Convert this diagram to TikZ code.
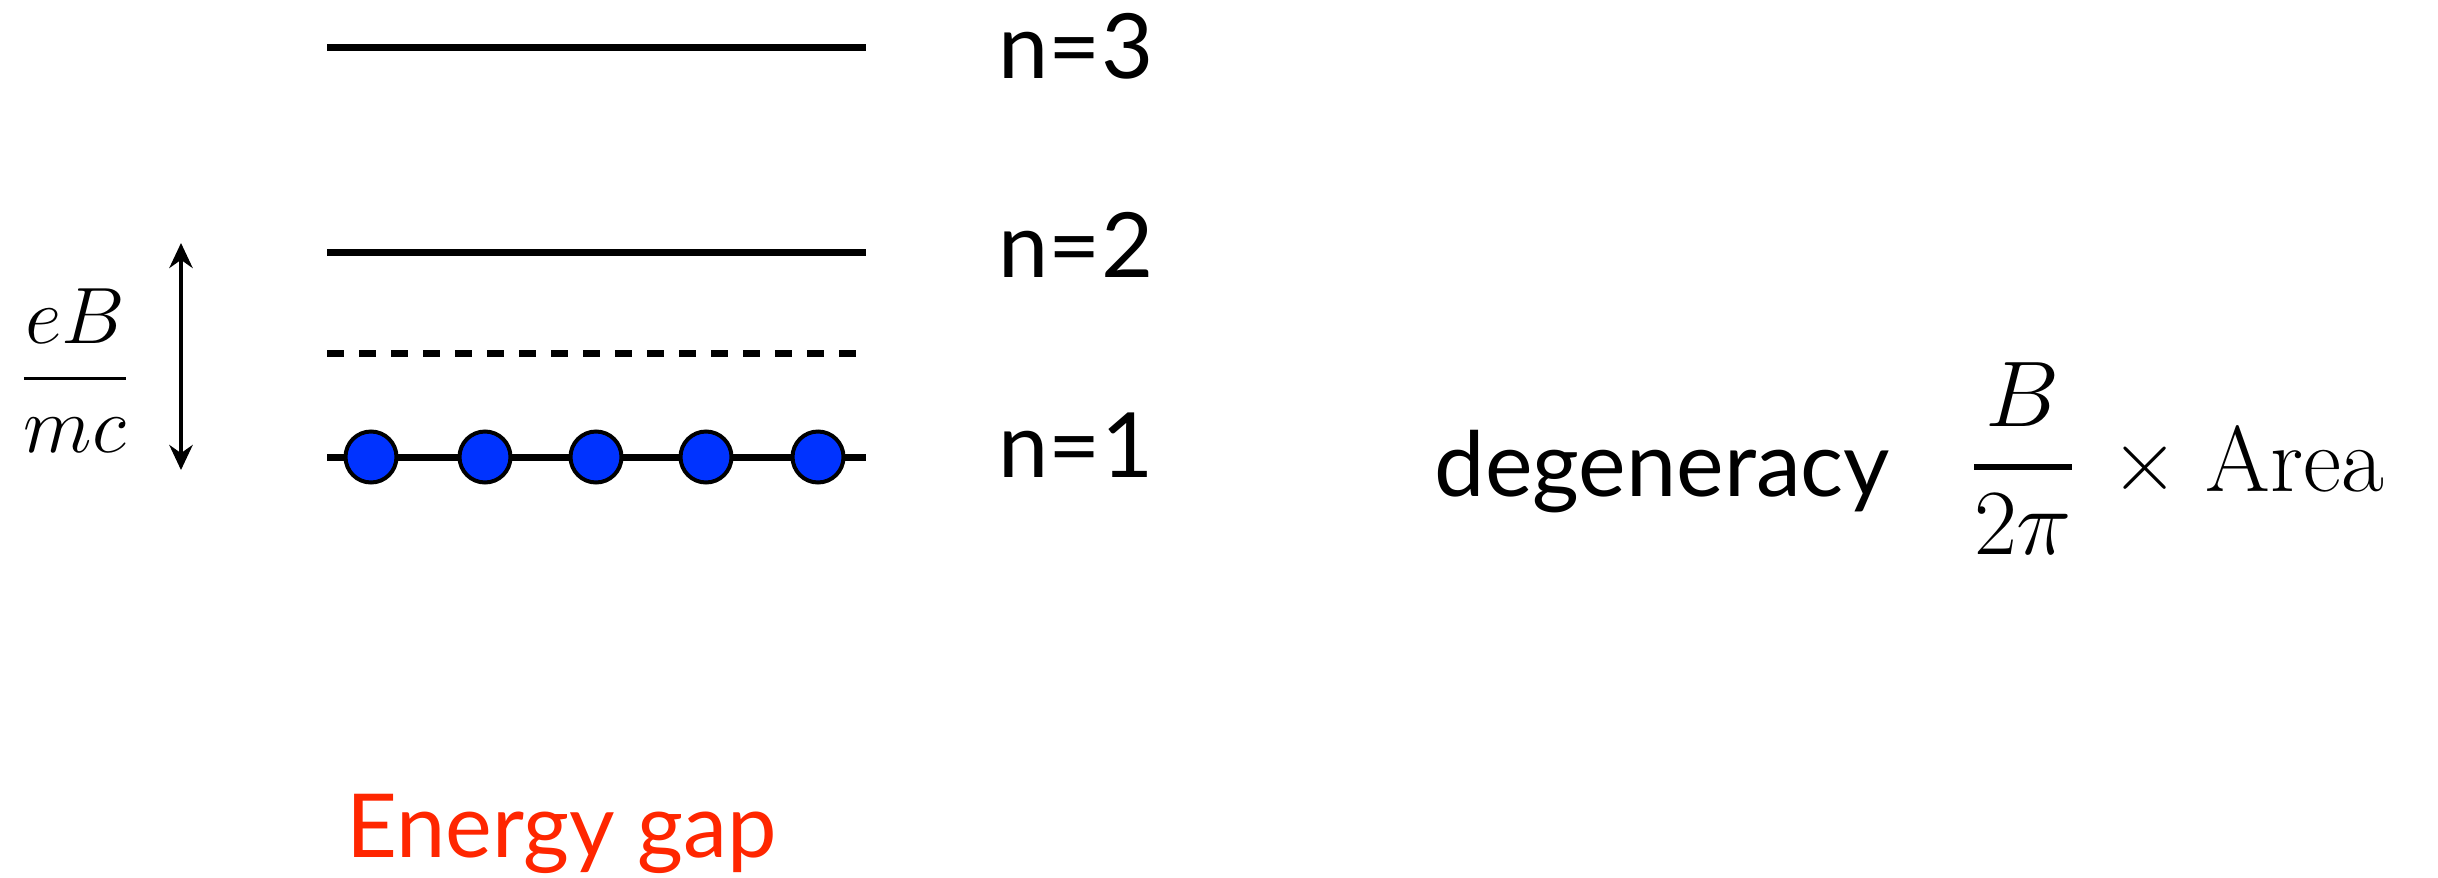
\RequirePackage{fix-cm}
\documentclass[tikz,border=0pt]{standalone}
\usepackage{amsmath}
\usepackage{graphicx}
\usepackage{fontspec}
\newfontfamily\gill{Lato}
\usetikzlibrary{arrows.meta}
\definecolor{eblue}{RGB}{0,51,255}
\definecolor{gapred}{RGB}{255,38,0}
\tikzset{
  level/.style={line width=2.1pt},
  dashlevel/.style={line width=2.1pt, dash pattern=on 5.1pt off 4.5pt},
  electron/.style={circle, draw=black, line width=1.2pt, fill=eblue, inner sep=0pt, minimum size=15.3pt},
  lbl/.style={inner sep=0pt, anchor=base west, font=\gill\fontsize{27}{32}\selectfont},
  mathbig/.style={inner sep=0pt, font=\fontsize{28}{34}\selectfont},
  romanbig/.style={inner sep=0pt, font=\fontsize{20.74}{25}\selectfont},
  gaparrow/.style={line width=1.1pt, {Stealth[length=7.5pt,width=7pt]}-{Stealth[length=7.5pt,width=7pt]}}
}
\begin{document}
\begin{tikzpicture}[x=0.3pt,y=-0.3pt]
\useasboundingbox (0,0) rectangle (2438,877);
% levels
\coordinate (l3a) at (327,47);  \coordinate (l3b) at (866,47);
\coordinate (l2a) at (327,252); \coordinate (l2b) at (866,252);
\coordinate (lda) at (327,353); \coordinate (ldb) at (860,353);
\coordinate (l1a) at (327,457); \coordinate (l1b) at (866,457);
\draw[level] (l3a) -- (l3b);
\draw[level] (l2a) -- (l2b);
\draw[dashlevel] (lda) -- (ldb);
\draw[level] (l1a) -- (l1b);
\foreach \i/\x in {1/371,2/485,3/596,4/706,5/818}
  \node[electron] (c\i) at (\x,457) {};
% labels
\node[lbl] (n3) at (998,78) {n=3};
\node[lbl] (n2) at (998,277) {n=2};
\node[lbl] (n1) at (998,477) {n=1};
% gap arrow
\coordinate (at) at (181,243);
\coordinate (ab) at (181,470);
\draw[gaparrow] (at) -- (ab);
\node[inner sep=0pt, anchor=base] (ebmc) at (75,398) {\fontsize{24}{29}\selectfont$\displaystyle\genfrac{}{}{0.9pt}{0}{eB}{mc}$};
% degeneracy
\node[lbl] (deg) at (1434,496) {degeneracy};
\node[mathbig, anchor=base] (frac) at (2023,490) {$\displaystyle\genfrac{}{}{1.8pt}{0}{B}{2\pi}$};
\node[romanbig, anchor=base] (times) at (2145,491) {\scalebox{1.35}{×}};
\node[romanbig, anchor=base west] (area) at (2205,491) {\scalebox{1.35}{Area}};
% energy gap
\node[lbl, text=gapred, font=\gill\fontsize{26.5}{32}\selectfont] (gap) at (346,857) {Energy gap};
\end{tikzpicture}
\end{document}
